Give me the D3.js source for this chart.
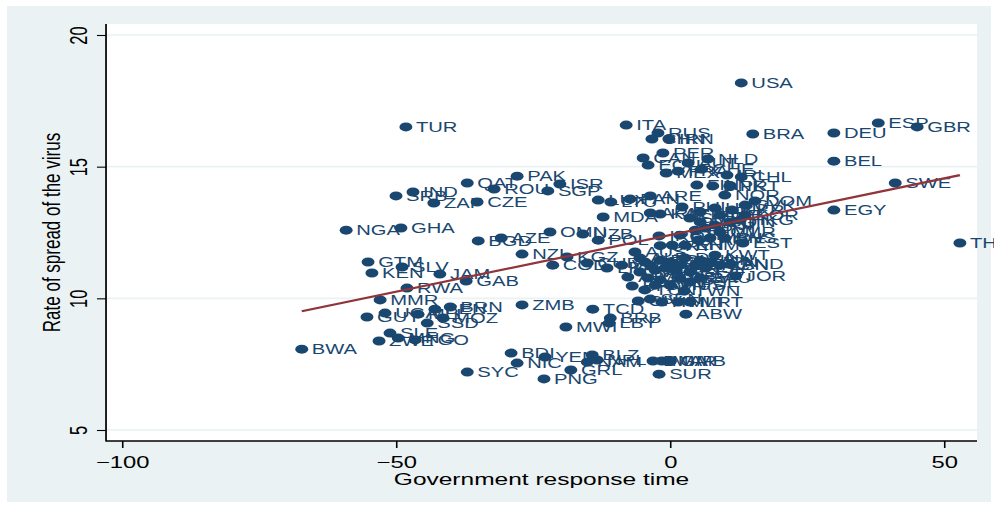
<!DOCTYPE html>
<html>
<head>
<meta charset="utf-8">
<script src="https://cdn.jsdelivr.net/npm/d3@7"></script>
<style>
  html, body { margin: 0; padding: 0; background: #ffffff; }
  svg { display: block; font-family: "Liberation Sans", Arial, sans-serif; }
</style>
</head>
<body>
<svg id="chart"></svg>
<script>
// Country codes, government response time (days) and rate of spread of the virus
const codes = [
  "USA","ITA","TUR","RUS","CHN","IRN","BRA","DEU","ESP","GBR",
  "BEL","SWE","EGY","THA","PER","CAN","ECU","NLD","MEX","IRL",
  "CHL","AUT","CHE","FRA","FIN","DNK","PRT","ARE","LUX","LTU",
  "PAN","DOM","NOR","SVK","UKR","HRV","BLR","PHL","KAZ","MDA",
  "ARM","QAT","PAK","ROU","ISR","SGP","CZE","IND","SRB","ZAF",
  "NGA","GHA","GTM","SLV","KEN","JAM","RWA","MMR","GAB","GUY",
  "UGA","MLI","BEN","BRN","MOZ","SSD","SLE","ZWE","MNG","TGO",
  "BWA","SYC","AZE","BGD","OMN","UZB","POL","NZL","KGZ","COD",
  "CUB","LKA","VNM","ZMB","TCD","BRB","LBY","MWI","BDI","NIC",
  "YEM","BLZ","NAM","NPL","GRL","PNG","DMA","MAR","GMB","SUR",
  "AND","JOR","TWN","ABW","EST","CMR","IRQ","ALB","ARG","BHR",
  "BIH","BOL","BGR","COL","CRI","CYP","DZA","GEO","GRC","HUN",
  "ISL","JPN","KWT","LBN","LVA","MKD","MYS","MUS","PRY","PSE",
  "SAU","SVN","TUN","URY","VEN","KHM","LAO","MDV","BHS","BTN",
  "CPV","ETH","FJI","GIN","HKG","MCO","SMR","LIE","KOR","CIV",
  "SEN","HTI","MLT","MRT","AUS","ATG","BFA"
];
const responseTime = [
  13.0, -8.0, -48.2, -2.2, -3.3, -0.2, 15.1, 29.9, 38.0, 45.1,
  29.9, 41.1, 29.9, 52.9, -1.3, -4.9, -4.0, 6.9, -0.7, 10.4,
  13.0, 3.3, 5.8, 1.5, 4.9, 7.8, 10.9, -3.6, -13.1, -10.8,
  -7.3, 15.5, 10.0, 13.7, 11.3, 8.2, 5.5, 2.2, -1.8, -12.2,
  -3.6, -37.0, -27.9, -32.1, -20.1, -22.3, -35.2, -46.9, -50.0, -43.1,
  -59.1, -49.1, -55.1, -48.9, -54.4, -42.0, -48.0, -52.9, -37.2, -55.3,
  -52.0, -46.0, -42.9, -40.1, -41.4, -44.3, -51.1, -53.1, -49.6, -46.5,
  -67.2, -37.0, -30.8, -35.0, -21.9, -15.9, -13.1, -27.0, -18.8, -21.4,
  -15.1, -11.5, -8.8, -27.0, -14.1, -10.9, -11.1, -19.0, -29.0, -27.9,
  -22.8, -14.2, -15.1, -13.3, -18.1, -23.0, -3.1, -1.5, 0.0, -2.0,
  11.1, 12.0, 2.6, 2.9, 13.3, 9.1, -2.0, -5.5, -4.6, -3.6,
  -2.7, -1.8, -0.9, 0.0, 0.9, 1.8, 2.7, 3.6, 4.6, 5.5,
  6.4, 7.3, 8.2, 9.1, -5.5, -4.0, -1.8, 0.0, 1.8, 3.6,
  5.5, -2.7, -4.6, -1.8, 0.4, 2.7, 5.1, 7.3, 10.0, 1.8,
  4.6, 6.4, 8.2, 10.9, 12.8, 5.5, 3.6, 9.1, 13.7, -5.8,
  -3.6, -1.5, 1.5, 3.6, -6.4, -7.7, -6.9
];
const spreadRate = [
  18.18, 16.58, 16.51, 16.28, 16.05, 16.05, 16.24, 16.28, 16.66, 16.51,
  15.21, 14.38, 13.35, 12.10, 15.52, 15.33, 15.06, 15.29, 14.76, 14.68,
  14.61, 15.14, 14.91, 14.83, 14.30, 14.27, 14.27, 13.89, 13.73, 13.66,
  13.77, 13.70, 13.92, 13.54, 13.35, 13.43, 13.28, 13.47, 13.20, 13.09,
  13.24, 14.38, 14.64, 14.15, 14.34, 14.08, 13.66, 14.04, 13.89, 13.62,
  12.59, 12.67, 11.38, 11.19, 10.96, 10.92, 10.39, 9.94, 10.66, 9.29,
  9.44, 9.40, 9.59, 9.67, 9.25, 9.06, 8.68, 8.38, 8.49, 8.42,
  8.07, 7.20, 12.29, 12.18, 12.52, 12.44, 12.21, 11.68, 11.57, 11.26,
  11.34, 11.15, 11.26, 9.75, 9.59, 9.25, 9.06, 8.91, 7.92, 7.54,
  7.77, 7.85, 7.58, 7.66, 7.28, 6.94, 7.62, 7.62, 7.62, 7.12,
  11.30, 10.85, 10.28, 9.40, 12.10, 12.52, 12.37, 11.53, 11.38, 11.26,
  11.07, 11.45, 11.15, 11.38, 11.07, 11.26, 11.53, 11.00, 11.26, 11.45,
  11.15, 11.38, 11.64, 11.26, 11.00, 10.77, 10.70, 10.50, 10.77, 10.62,
  10.77, 10.50, 10.32, 12.00, 12.02, 12.02, 12.21, 12.29, 12.29, 12.40,
  12.59, 12.67, 12.78, 12.90, 12.97, 12.90, 13.05, 13.16, 13.16, 9.90,
  9.97, 9.86, 9.86, 9.86, 11.76, 10.81, 10.47
];

// Axis ticks
const xTicks = [-100, -50, 0, 50];
const yTicks = [5, 10, 15, 20];

// Fitted values line (linear fit), endpoints at the observed range of response time
const fitTime = [-67.2, 52.9];
const fitRate = [9.51, 14.68];

// Layout: drawn on a 690-wide canvas that is stretched to the 994px window
const W = 994, H = 506, VW = 690, VH = 506;
const plot = { left: 73.6, right: 678.2, top: 24, bottom: 441 };

const navy = "#1a476f";
const maroon = "#90353b";
const panel = "#eaf2f3";

const svg = d3.select("#chart")
  .attr("width", W).attr("height", H)
  .attr("viewBox", `0 0 ${VW} ${VH}`)
  .attr("preserveAspectRatio", "none");

// Graph region background and white plot region
svg.append("rect").attr("x", 0).attr("y", 0).attr("width", VW).attr("height", VH).attr("fill", "#ffffff");
svg.append("rect").attr("x", 4.9).attr("y", 6).attr("width", 683).attr("height", 496).attr("fill", panel);
svg.append("rect")
  .attr("x", plot.left).attr("y", plot.top)
  .attr("width", plot.right - plot.left).attr("height", plot.bottom - plot.top)
  .attr("fill", "#ffffff");

const x = d3.scaleLinear().domain([-100, 50]).range([84.7, 655.3]);
const y = d3.scaleLinear().domain([5, 20]).range([430, 35]);

// Horizontal grid lines
svg.append("g").selectAll("line").data(yTicks).join("line")
  .attr("x1", plot.left).attr("x2", plot.right)
  .attr("y1", d => y(d)).attr("y2", d => y(d))
  .attr("stroke", panel).attr("stroke-width", 1.6);

// Y axis
const yAxis = svg.append("g")
  .attr("transform", `translate(${plot.left},0)`)
  .call(d3.axisLeft(y).tickValues(yTicks).tickSize(6.3).tickSizeOuter(0).tickFormat(d3.format("d")));
yAxis.select(".domain").remove();
yAxis.selectAll(".tick line").attr("stroke", "#000").attr("stroke-width", 1.1);
yAxis.selectAll(".tick text")
  .attr("x", 0).attr("y", 0).attr("dy", 0)
  .attr("text-anchor", "middle")
  .attr("transform", "translate(-13.2,0) rotate(-90)")
  .attr("font-size", 16.5).attr("fill", "#000")
  .style("font-family", "'Liberation Sans', Arial, sans-serif");

// X axis
const xAxis = svg.append("g")
  .attr("transform", `translate(0,${plot.bottom})`)
  .call(d3.axisBottom(x).tickValues(xTicks).tickSize(7).tickSizeOuter(0).tickFormat(d3.format("d")));
xAxis.select(".domain").remove();
xAxis.selectAll(".tick line").attr("stroke", "#000").attr("stroke-width", 1.1);
xAxis.selectAll(".tick text")
  .attr("y", 27).attr("dy", 0)
  .attr("font-size", 16.5).attr("fill", "#000")
  .style("font-family", "'Liberation Sans', Arial, sans-serif");

// Axis lines
svg.append("line").attr("x1", plot.left).attr("x2", plot.left)
  .attr("y1", plot.top).attr("y2", plot.bottom + 0.6)
  .attr("stroke", "#000").attr("stroke-width", 1.2);
svg.append("line").attr("x1", plot.left).attr("x2", plot.right)
  .attr("y1", plot.bottom).attr("y2", plot.bottom)
  .attr("stroke", "#000").attr("stroke-width", 1.4);

// Axis titles
svg.append("text")
  .attr("transform", `translate(41.6,${(plot.top + plot.bottom) / 2}) rotate(-90)`)
  .attr("text-anchor", "middle").attr("font-size", 17).attr("fill", "#000")
  .text("Rate of spread of the virus");
svg.append("text")
  .attr("x", (plot.left + plot.right) / 2).attr("y", 485)
  .attr("text-anchor", "middle").attr("font-size", 17).attr("fill", "#000")
  .text("Government response time");

// Labelled scatter points
const points = codes.map((c, i) => ({ code: c, t: responseTime[i], r: spreadRate[i] }));
const marks = svg.append("g");
points.forEach(p => {
  const g = marks.append("g");
  g.append("circle")
    .attr("cx", x(p.t)).attr("cy", y(p.r)).attr("r", 4.5)
    .attr("fill", navy);
  g.append("text")
    .attr("x", x(p.t) + 7).attr("y", y(p.r)).attr("dy", "0.36em")
    .attr("font-size", 14).attr("fill", navy)
    .text(p.code);
});

// Fitted line
svg.append("line")
  .attr("x1", x(fitTime[0])).attr("y1", y(fitRate[0]))
  .attr("x2", x(fitTime[1])).attr("y2", y(fitRate[1]))
  .attr("stroke", maroon).attr("stroke-width", 2.2);
</script>
</body>
</html>
